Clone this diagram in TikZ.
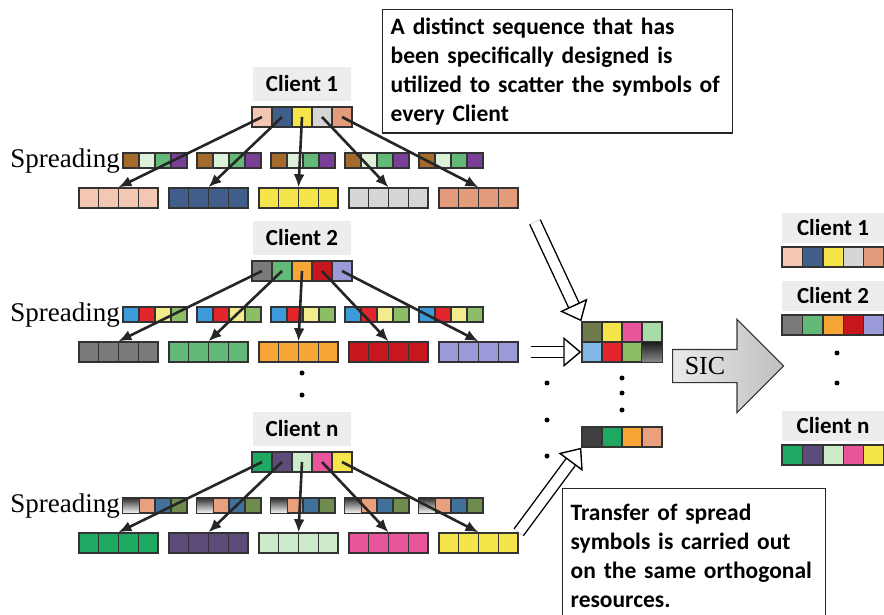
\documentclass[tikz,border=0pt]{standalone}
\usepackage{fontspec}
\setmainfont{Liberation Serif}
\newfontfamily\labelfont{Carlito}
\usetikzlibrary{arrows.meta,shapes.arrows,calc}

% symbol colours
\definecolor{peach}{HTML}{F4C7B2}
\definecolor{steel}{HTML}{3F5F8A}
\definecolor{yel}{HTML}{F6E54A}
\definecolor{lgray}{HTML}{D6D6D6}
\definecolor{salmon}{HTML}{E39B7B}
\definecolor{dgray}{HTML}{7A7A7A}
\definecolor{green}{HTML}{62B978}
\definecolor{orange}{HTML}{F7A535}
\definecolor{dred}{HTML}{C8161E}
\definecolor{lav}{HTML}{9B9AD8}
\definecolor{emer}{HTML}{1FA862}
\definecolor{plum}{HTML}{5D4C7A}
\definecolor{pale}{HTML}{CDEBCA}
\definecolor{pink}{HTML}{E8559A}
% spreading code colours
\definecolor{brown}{HTML}{A36A2C}
\definecolor{mint}{HTML}{DDF0D8}
\definecolor{purple}{HTML}{7A3F97}
\definecolor{sky}{HTML}{3D9BDC}
\definecolor{red}{HTML}{E2262C}
\definecolor{pyellow}{HTML}{F2EC8C}
\definecolor{lgreen}{HTML}{8BBE66}
\definecolor{stripe}{HTML}{555555}
\definecolor{salm2}{HTML}{E9A07E}
\definecolor{blue2}{HTML}{41709A}
\definecolor{olive2}{HTML}{6F8C4E}
\definecolor{olive}{HTML}{6E7B4A}
\definecolor{lsky}{HTML}{7FB7E6}
\definecolor{lmint}{HTML}{A8DCA8}

\begin{document}
\begin{tikzpicture}[x=1pt, y=-1pt,
    cell/.style={draw=black!80, line width=1.4pt, minimum width=20pt, minimum height=20pt, inner sep=0pt},
    code/.style={cell, minimum width=16pt, minimum height=15pt},
    block/.style={cell, minimum width=79pt,
        path picture={\foreach \k in {1,2,3}
            \draw[black!80, line width=1.2pt]
                ($(path picture bounding box.north west)!\k/4!(path picture bounding box.north east)$) --
                ($(path picture bounding box.south west)!\k/4!(path picture bounding box.south east)$);}},
    tag/.style={fill=black!7, minimum width=98pt, minimum height=34pt, inner sep=0pt,
        font=\labelfont\bfseries\fontsize{23}{27}\selectfont},
    note/.style={draw=black!85, line width=1.4pt, anchor=north west, align=left, inner sep=8pt,
        font=\labelfont\bfseries\fontsize{23.5}{29}\selectfont},
    spread/.style={-{Latex[length=13pt,width=11pt]}, line width=2.6pt, black!85},
    hollow/.style={double=white, double distance=10pt, line width=1.4pt,
        -{Triangle[open, fill=white, length=18pt, width=30pt, line width=1.4pt]}},
    dot/.style={circle, fill=black, inner sep=0pt, minimum size=5pt},
    sic/.style={single arrow, draw=black!80, line width=1.2pt, left color=black!8, right color=black!25,
        single arrow head extend=30pt, minimum height=111pt, inner ysep=16pt, anchor=tail}
]
\useasboundingbox (0,0) rectangle (884,615);

% three clients, each spread by its own code
\foreach \r/\y/\syms/\codes in {
    1/0/{peach,steel,yel,lgray,salmon}/{brown,mint,green,purple},
    2/154/{dgray,green,orange,dred,lav}/{sky,red,pyellow,lgreen},
    n/345/{emer,plum,pale,pink,yel}/{stripe,salm2,blue2,olive2}} {
  \node[tag] (cl-\r) at (302,84+\y) {Client \r};
  \node[anchor=east, inner sep=1pt, font=\fontsize{27}{30}\selectfont] (spr-\r) at (121,161+\y) {Spreading};
  \foreach \c [count=\i] in \syms {
    \node[cell, fill=\c] (sym-\r-\i) at (242+20*\i,117+\y) {};
    \node[block, fill=\c] (res-\r-\i) at (28.5+90*\i,198+\y) {};
  }
  \foreach \g in {1,...,5} {
    \foreach \c [count=\j] in \codes
      \node[code, fill=\c] (sp-\r-\g-\j) at (41+74*\g+16*\j,160.5+\y) {};
  }
}
% black-to-white code chips of client n
\foreach \g in {1,...,5}
  \shade[top color=black!85, bottom color=white, draw=black!80, line width=1.4pt]
    (sp-n-\g-1.north west) rectangle (sp-n-\g-1.south east);

% spreading arrows
\foreach \r in {1,2,n}
  \foreach \i in {1,...,5}
    \draw[spread] (sym-\r-\i.center) -- (res-\r-\i.north);

\node[dot] (d1) at (302,373) {};
\node[dot] (d2) at (302,395) {};

% superposed symbols on the shared resources
\foreach \c [count=\i] in {olive,yel,pink,lmint}
  \node[cell, fill=\c] (mix-a-\i) at (572+20*\i,332) {};
\foreach \c [count=\i] in {lsky,red,lgreen,black}
  \node[cell, fill=\c] (mix-b-\i) at (572+20*\i,352) {};
\shade[top color=black!90, bottom color=black!45, draw=black!80, line width=1.4pt]
  (mix-b-4.north west) rectangle (mix-b-4.south east);
\foreach \c [count=\i] in {black!75,emer,orange,salm2}
  \node[cell, fill=\c] (low-\i) at (572+20*\i,437) {};

\node[dot] (e1) at (622,378) {};
\node[dot] (e2) at (622,393) {};
\node[dot] (e3) at (622,410) {};
\node[dot] (f1) at (547,383) {};
\node[dot] (f2) at (547,420) {};
\node[dot] (f3) at (547,456) {};

\coordinate (h1) at (535,222);
\coordinate (h2) at (531,352);
\draw[hollow] (h1) -- (mix-a-1.north west);
\draw[hollow] (h2) -- (mix-b-1.west);
\draw[hollow] (res-n-5.north east) -- (low-1.south west);

\node[sic] (sic) at (672,366) {};
\node[font=\fontsize{26}{30}\selectfont] (sic-txt) at (705,366) {SIC};

% recovered symbols
\foreach \r/\y/\syms in {
    1/0/{peach,steel,yel,lgray,salmon},
    2/68/{dgray,green,orange,dred,lav},
    n/198/{emer,plum,pale,pink,yel}} {
  \node[tag, minimum width=102pt, minimum height=30pt] (out-\r) at (833,228+\y) {Client \r};
  \foreach \c [count=\i] in \syms
    \node[cell, fill=\c, minimum width=20.4pt] (rx-\r-\i) at (771.8+20.4*\i,257+\y) {};
}
\node[dot] (g1) at (837,353) {};
\node[dot] (g2) at (837,383) {};

\node[note, text width=334pt] (note-top) at (382,9)
  {A distinct sequence that has\\been specifically designed is\\utilized to scatter the symbols of\\every Client};
\node[note, text width=247pt, minimum height=135pt] (note-bot) at (562,488)
  {Transfer of spread\\symbols is carried out\\on the same orthogonal\\resources.};
\end{tikzpicture}
\end{document}
